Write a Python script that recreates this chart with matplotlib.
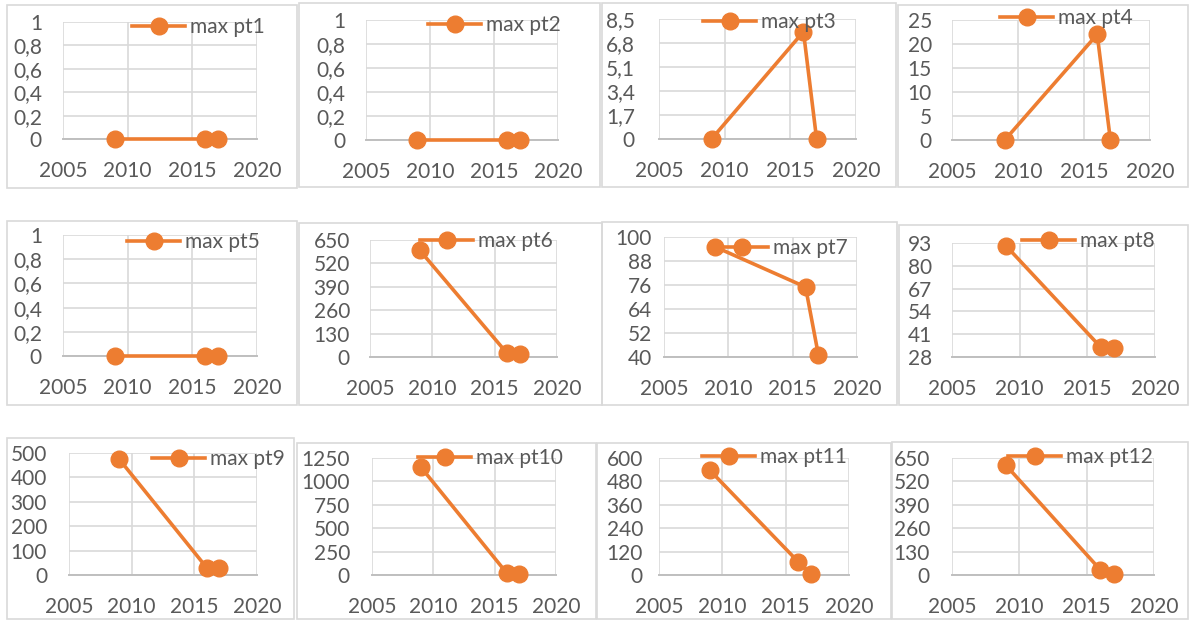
import matplotlib.pyplot as plt
from matplotlib.patches import Rectangle

plt.rcParams['font.family'] = ['Lato', 'DejaVu Sans']

W, H = 1189, 620
ORANGE = "#ED7D31"
GRAY_TXT = "#595959"
GRID = "#D9D9D9"

years = [2009, 2016, 2017]
labels = ["max pt%d" % i for i in range(1, 13)]
values = [
    [0, 0, 0],
    [0, 0, 0],
    [0, 7.6, 0],
    [0, 22, 0],
    [0, 0, 0],
    [592, 20, 18],
    [95, 75, 41],
    [91.3, 33.5, 33],
    [475, 29, 29],
    [1150, 18, 16],
    [538, 67, 4],
    [610, 30, 4],
]
y_min = [0, 0, 0, 0, 0, 0, 40, 28, 0, 0, 0, 0]
y_max = [1, 1, 8.5, 25, 1, 650, 100, 93, 500, 1250, 600, 650]
y_step = [0.2, 0.2, 1.7, 5, 0.2, 130, 12, 13, 100, 250, 120, 130]
x_ticks = [2005, 2010, 2015, 2020]

# layout in pixels: frame (x0, y0, x1, y1), axes (x0, y0, x1, y1), legend anchor (x, y), ylabel pad
frames = [(7, 5, 297, 188), (299, 3, 600, 187), (602, 3, 896, 187), (898, 5, 1188, 187),
          (7, 221, 297, 405), (299, 223, 602, 405), (602, 222, 897, 405), (899, 225, 1188, 405),
          (7, 438, 294, 619), (297, 443, 596, 619), (597, 443, 891, 619), (892, 442, 1188, 619)]
axes_px = [(63, 22, 257, 139), (366, 20, 558, 140), (659, 19, 856, 139), (952, 20, 1150, 140),
           (63, 235, 257, 356), (370, 240, 557, 357), (664, 237, 857, 357), (952, 243, 1155, 357),
           (69, 453, 257, 575), (372, 458, 556, 575), (659, 458, 849, 575), (952, 458, 1154, 575)]
leg_px = [(132, 27), (428, 25), (703, 22), (1000, 18),
          (127, 242), (420, 241), (715, 248), (1022, 241),
          (152, 459), (418, 458), (702, 457), (1008, 457)]
ypads = [21, 21, 24, 20, 21, 20, 12, 20, 22, 22, 16, 22]

fig = plt.figure(figsize=(W / 100, H / 100), dpi=100)
FS = 15
px2pt = 72 / 100


def fmt(v, step):
    if abs(step - round(step)) > 1e-9:
        s = "%.1f" % v
        if s.endswith(".0"):
            s = s[:-2]
        return s.replace(".", ",")
    return "%d" % round(v)


for i in range(12):
    fx0, fy0, fx1, fy1 = frames[i]
    fig.patches.append(Rectangle((fx0 / W, 1 - fy1 / H), (fx1 - fx0) / W, (fy1 - fy0) / H,
                                 transform=fig.transFigure, fill=False, edgecolor=GRID, lw=1.2))
    ax0, ay0, ax1, ay1 = axes_px[i]
    ax = fig.add_axes([ax0 / W, 1 - ay1 / H, (ax1 - ax0) / W, (ay1 - ay0) / H])
    ax.plot(years, values[i], color=ORANGE, lw=2.6, marker="o", ms=12, clip_on=False,
            zorder=3, label=labels[i])
    ax.set_xlim(2005, 2020)
    ax.set_ylim(y_min[i], y_max[i])
    ticks = [y_min[i] + k * y_step[i] for k in range(6)]
    ax.set_yticks(ticks)
    ax.set_yticklabels([fmt(t, y_step[i]) for t in ticks])
    ax.set_xticks(x_ticks)
    ax.grid(True, color=GRID, lw=1.2)
    ax.set_axisbelow(True)
    for s in ["top", "right", "left"]:
        ax.spines[s].set_visible(False)
    ax.spines["bottom"].set_color("#BFBFBF")
    ax.spines["bottom"].set_linewidth(1.4)
    ax.tick_params(length=0, labelsize=FS, labelcolor=GRAY_TXT)
    ax.tick_params(axis="y", pad=ypads[i] * px2pt)
    ax.tick_params(axis="x", pad=22 * px2pt)
    lx, ly = leg_px[i]
    ax.legend(loc="center left", bbox_to_anchor=(lx / W, 1 - ly / H),
              bbox_transform=fig.transFigure, frameon=False, borderpad=0, borderaxespad=0,
              handlelength=2.55, handletextpad=0.25, fontsize=FS, labelcolor=GRAY_TXT,
              numpoints=1)

fig.savefig("out.png", dpi=100)
